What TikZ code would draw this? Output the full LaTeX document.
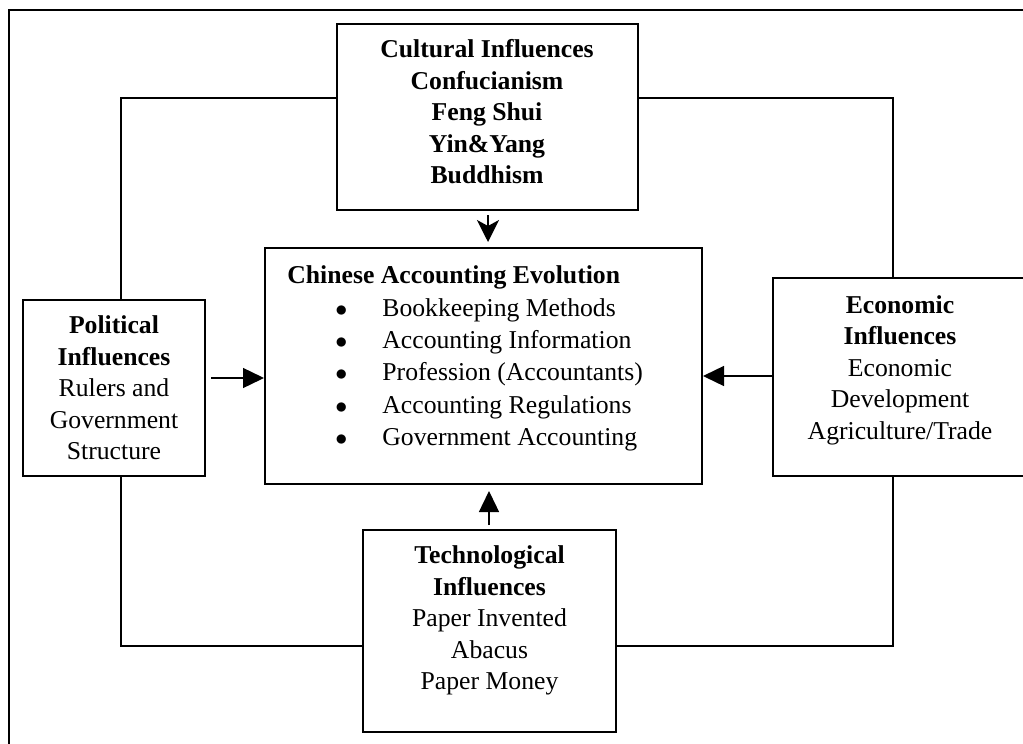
\documentclass[tikz,border=0pt]{standalone}
\usepackage{fontspec}
\setmainfont{Liberation Serif}
\usetikzlibrary{arrows.meta,positioning}

\newcommand{\bul}{\hspace*{24pt}\makebox[23.5pt][l]{$\bullet$}}

\tikzset{
  infl/.style={draw,line width=1pt,inner sep=0pt},
  txt/.style={align=center,inner sep=0pt,anchor=north,
    font=\fontsize{12.85}{15.75}\selectfont},
  link/.style={line width=0.7pt},
  push/.style={line width=0.7pt,-{Triangle[length=10.5pt,width=10pt]}},
  drop/.style={line width=0.7pt,-{Stealth[length=11pt,width=11pt,inset=3pt]}},
}

\begin{document}
\begin{tikzpicture}[x=0.5pt,y=-0.5pt]
  \useasboundingbox (0,0) rectangle (1023,744);
  \clip (0,0) rectangle (1023,744);
  % outer frame (cut off on the right and at the bottom)
  \draw[line width=1pt] (9,10) rectangle (1040,760);

  % boxes
  \node[infl,minimum width=150.5pt,minimum height=93pt]  (cult) at (487.5,117) {};
  \node[infl,minimum width=218.5pt,minimum height=118pt] (core) at (483.5,366) {};
  \node[infl,minimum width=91pt,minimum height=88pt]     (pol)  at (114,388) {};
  \node[infl,minimum width=128.5pt,minimum height=99pt]  (econ) at (901.5,377) {};
  \node[infl,minimum width=126.5pt,minimum height=101pt] (tech) at (489.5,631) {};

  % texts
  \node[txt] (cultT) at (487,39.5) {\textbf{Cultural Influences}\\ \textbf{Confucianism}\\
    \textbf{Feng Shui}\\ \textbf{Yin\&Yang}\\ \textbf{Buddhism}};
  \node[txt] (polT) at (114,315.5) {\textbf{Political}\\ \textbf{Influences}\\
    Rulers and\\ Government\\ Structure};
  \node[txt] (econT) at (900,295) {\textbf{Economic}\\ \textbf{Influences}\\
    Economic\\ Development\\ Agriculture/Trade};
  \node[txt] (techT) at (489.5,545.4) {\textbf{Technological}\\ \textbf{Influences}\\
    Paper Invented\\ Abacus\\ Paper Money};
  \node[txt,align=left,anchor=north west,font=\fontsize{12.85}{16.2}\selectfont]
    (coreT) at (287,265.4) {\textbf{Chinese Accounting Evolution}\\
    \bul Bookkeeping Methods\\ \bul Accounting Information\\
    \bul Profession (Accountants)\\ \bul Accounting Regulations\\
    \bul Government Accounting};

  % ring of links between the influences
  \coordinate (tl) at (121,98);
  \coordinate (tr) at (893,98);
  \coordinate (bl) at (121,646);
  \coordinate (br) at (893,646);
  \draw[link] (cult.west |- tl) -- (tl) -- (tl |- pol.north);
  \draw[link] (cult.east |- tr) -- (tr) -- (tr |- econ.north);
  \draw[link] (pol.south -| bl) -- (bl) -- (tech.west |- bl);
  \draw[link] (tech.east |- br) -- (br) -- (br |- econ.south);

  % arrows into the centre
  \coordinate (ca) at (488,215);
  \coordinate (pa) at (211,378);
  \coordinate (ea) at (773,376);
  \coordinate (ta) at (489,525);
  \draw[drop,shorten >=2.5pt] (ca) -- (ca |- core.north);
  \draw[push] (pa) -- (pa -| core.west);
  \draw[push] (ea) -- (ea -| core.east);
  \draw[push,shorten >=3pt] (ta) -- (ta |- core.south);
\end{tikzpicture}
\end{document}
